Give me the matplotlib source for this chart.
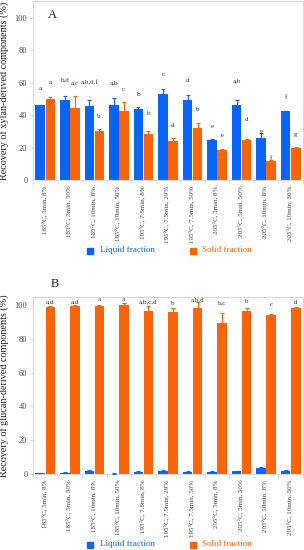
import matplotlib
matplotlib.use("Agg")
import matplotlib.pyplot as plt
import numpy as np

plt.rcParams['font.family'] = ['Liberation Serif', 'DejaVu Serif']

categories = ["185°C, 5min, 8%", "185°C, 5min, 50%", "185°C, 10min, 8%", "185°C, 10min, 50%",
              "195°C, 7.5min, 8%", "195°C, 7.5min, 29%", "195°C, 7.5min, 50%", "205°C, 5min, 8%",
              "205°C, 5min, 50%", "205°C, 10min, 8%", "205°C, 10min, 50%"]

# Panel A: xylan
xyl_liquid = [46.2, 49.3, 45.8, 46.4, 44.1, 53.0, 49.3, 24.8, 46.4, 25.8, 42.5]
xyl_liquid_err = [0.3, 2.5, 3.7, 4.0, 0.8, 3.3, 2.9, 0.3, 2.7, 3.3, 0.2]
xyl_solid = [49.9, 44.5, 30.3, 42.5, 28.7, 24.0, 32.0, 18.7, 24.6, 11.7, 20.0]
xyl_solid_err = [1.2, 7.6, 1.2, 5.5, 1.6, 1.7, 3.1, 0.5, 0.5, 0.4, 0.6]
xyl_liquid_letters = ["a", "b,d", "a,b,d,f", "a,b", "b", "c", "d", "e", "a,b", "e", "f"]
xyl_liquid_letter_y = [56.7, 61.6, 60.2, 60.2, 53.0, 64.9, 61.6, 32.8, 61.2, 29.7, 50.9]
xyl_solid_letters = ["a", "a,c", "b", "c", "b", "d", "b", "e", "d", "f", "g"]
xyl_solid_letter_y = [60.2, 60.2, 39.2, 56.1, 41.0, 33.8, 43.3, 27.6, 37.1, 13.2, 28.2]

# Panel B: glucan
glu_liquid = [0.6, 0.8, 1.6, 0.2, 1.2, 1.8, 1.4, 1.2, 1.6, 3.8, 1.6]
glu_liquid_err = [0.2, 0.2, 0.8, 0.2, 0.3, 0.6, 0.3, 0.3, 0.3, 0.2, 0.6]
glu_solid = [98.8, 99.2, 99.6, 100.0, 96.6, 96.0, 98.2, 89.5, 96.6, 94.3, 98.4]
glu_solid_err = [0.3, 1.0, 0.5, 1.3, 3.0, 2.0, 3.8, 6.0, 1.5, 0.2, 0.5]
glu_solid_letters = ["a,d", "a,d", "a", "a", "a,b,c,d", "b", "a,b,d", "b,c", "b", "c", "d"]
glu_solid_letter_y = [101.8, 101.8, 103.0, 103.0, 101.8, 101.0, 103.0, 101.2, 101.8, 100.2, 101.2]

BLUE = "#0a64f5"
ORANGE = "#fa640a"
FRAME = "#d9d9d9"
TXT = "#444444"

fig = plt.figure(figsize=(3.04, 5.5), dpi=100)
W, H = 304, 550

def make_ax(top_px, bottom_px):
    return fig.add_axes([33 / W, 1 - bottom_px / H, 270 / W, (bottom_px - top_px) / H])

x = np.arange(len(categories))
bw = 0.39

def style(ax, ymax, ylabel):
    ax.set_xlim(-0.5, len(categories) - 0.5)
    ax.set_ylim(0, ymax)
    for s in ax.spines.values():
        s.set_color(FRAME)
        s.set_linewidth(0.8)
    ax.set_yticks([0, 20, 40, 60, 80, 100])
    ax.tick_params(axis='y', labelsize=6, colors=TXT, length=2, width=0.6, pad=2)
    ax.tick_params(axis='y', color=FRAME)
    ax.set_xticks(x)
    ax.set_xticklabels(categories, rotation=90, fontsize=5, color=TXT, va='top')
    ax.tick_params(axis='x', length=0, pad=4)
    ax.set_xticks(np.arange(len(categories) + 1) - 0.5, minor=True)
    ax.tick_params(axis='x', which='minor', length=3, width=0.6, color=FRAME)
    ax.set_ylabel(ylabel, fontsize=7.3, color="#222222", labelpad=4)

ekw = dict(elinewidth=0.8, capsize=1.5, capthick=0.8)

# Panel A
axA = make_ax(1, 180)
axA.bar(x - bw / 2 - 0.01, xyl_liquid, bw, color=BLUE, zorder=2)
axA.errorbar(x - bw / 2 - 0.01, xyl_liquid, yerr=[np.zeros(len(x)), xyl_liquid_err],
             fmt='none', ecolor=BLUE, zorder=3, **ekw)
axA.bar(x + bw / 2 + 0.01, xyl_solid, bw, color=ORANGE, zorder=2)
axA.errorbar(x + bw / 2 + 0.01, xyl_solid, yerr=[np.zeros(len(x)), xyl_solid_err],
             fmt='none', ecolor=ORANGE, zorder=3, **ekw)
for i in range(len(x)):
    axA.text(x[i] - bw / 2, xyl_liquid_letter_y[i], xyl_liquid_letters[i], ha='center', va='center',
             fontsize=5, color="#333333")
    axA.text(x[i] + bw / 2, xyl_solid_letter_y[i], xyl_solid_letters[i], ha='center', va='center',
             fontsize=5, color="#333333")
style(axA, 110.5, "Recovery of xylan-derived components (%)")
axA.text(0.07, 0.92, "A", transform=axA.transAxes, fontsize=9, color="#222222", ha='center', va='center')

# Panel B
axB = make_ax(297, 474)
axB.bar(x - bw / 2 - 0.01, glu_liquid, bw, color=BLUE, zorder=2)
axB.errorbar(x - bw / 2 - 0.01, glu_liquid, yerr=[np.zeros(len(x)), glu_liquid_err],
             fmt='none', ecolor=BLUE, zorder=3, **ekw)
axB.bar(x + bw / 2 + 0.01, glu_solid, bw, color=ORANGE, zorder=2)
axB.errorbar(x + bw / 2 + 0.01, glu_solid, yerr=[np.zeros(len(x)), glu_solid_err],
             fmt='none', ecolor=ORANGE, zorder=3, **ekw)
for i in range(len(x)):
    axB.text(x[i] + bw / 2, glu_solid_letter_y[i], glu_solid_letters[i], ha='center', va='center',
             fontsize=5, color="#333333")
style(axB, 104.7, "Recovery of glucan-derived components (%)")
fig.text(55 / W, 1 - 284 / H, "B", fontsize=9, color="#222222", ha='center', va='center')

# Legends
def legend(ypx):
    fig.patches.append(matplotlib.patches.Rectangle((87 / W, 1 - (ypx + 3.5) / H), 6 / W, 6 / H,
                                                    transform=fig.transFigure, color=BLUE))
    fig.text(100 / W, 1 - ypx / H, "Liquid fraction", color=BLUE, fontsize=6.5, va='center', ha='left')
    fig.patches.append(matplotlib.patches.Rectangle((190 / W, 1 - (ypx + 3.5) / H), 6 / W, 6 / H,
                                                    transform=fig.transFigure, color=ORANGE))
    fig.text(202 / W, 1 - ypx / H, "Solid fraction", color=ORANGE, fontsize=6.5, va='center', ha='left')

legend(250)
legend(544)

fig.savefig("out.png", dpi=100)
